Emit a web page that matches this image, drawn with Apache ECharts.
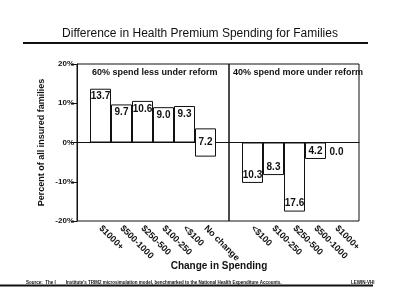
<!DOCTYPE html>
<html>
<head>
<meta charset="utf-8">
<script src="https://cdn.jsdelivr.net/npm/echarts@6/dist/echarts.min.js"></script>
<style>
  html, body { margin: 0; padding: 0; background: #fff; }
  #chart { width: 400px; height: 305px; }
</style>
</head>
<body>
<div id="chart"></div>
<script>
// categories and values (percent of all insured families)
const lessCategories = ["$1000+", "$500-1000", "$250-500", "$100-250", "<$100", "No change"];
const lessValues = [13.7, 9.7, 10.6, 9.0, 9.3, 7.2];
const moreCategories = ["<$100", "$100-250", "$250-500", "$500-1000", "$1000+"];
const moreValues = [-10.3, -8.3, -17.6, -4.2, 0.0];
const yTicks = [-20, -10, 0, 10, 20];

const narrow = "'Liberation Sans', Arial, sans-serif";
const ink = "#111";

const chart = echarts.init(document.getElementById("chart"));

// the "No change" box sits across the zero line, so it is lifted by half its value
const noChangeIdx = lessCategories.indexOf("No change");
const lessBase = lessValues.map((v, i) => (i === noChangeIdx ? -v / 2 : 0));

const txt = size => ({ color: ink, fontFamily: narrow, fontWeight: "bold", fontSize: size });

const barLabel = {
  show: true,
  ...txt(10),
  formatter: p => Math.abs(p.value).toFixed(1)
};

const yBase = {
  type: "value",
  min: yTicks[0],
  max: yTicks[yTicks.length - 1],
  interval: 10,
  splitLine: { show: false }
};

const frame = { top: 64, height: 157, show: true, borderColor: ink, borderWidth: 1, backgroundColor: "transparent" };

const option = {
  backgroundColor: "#fff",
  animation: false,
  title: [
    {
      text: "Difference in Health Premium Spending for Families",
      left: "center", top: 23,
      textStyle: { fontFamily: narrow, fontWeight: "normal", fontSize: 12, color: ink }
    },
    { text: "60% spend less under reform", left: 87, top: 63, textStyle: txt(9) },
    { text: "40% spend more under reform", left: 228, top: 63, textStyle: txt(9) },
    {
      text: "Source:  The I        Institute's TRIM2 microsimulation model, benchmarked to the National Health Expenditure Accounts.",
      left: 21, top: 275, textStyle: txt(4.5)
    },
    { text: "LEWIN-VHI", left: 346, top: 275, textStyle: txt(4.5) }
  ],
  graphic: [
    { type: "line", shape: { x1: 23, y1: 43, x2: 368, y2: 43 }, style: { stroke: ink, lineWidth: 2 } },
    { type: "line", shape: { x1: 0, y1: 285.5, x2: 373, y2: 285.5 }, style: { stroke: ink, lineWidth: 2 } },
    { type: "text", x: 219, y: 266, style: { text: "Change in Spending", align: "center", verticalAlign: "middle",
      fill: ink, font: "bold 10px 'Liberation Sans', Arial, sans-serif" } }
  ],
  grid: [
    { left: 77, width: 152, ...frame },   // left frame
    { left: 229, width: 130, ...frame },  // right frame
    { left: 90, width: 126, top: 64, height: 157 },  // left bars
    { left: 242, width: 105, top: 64, height: 157 }  // right bars
  ],
  xAxis: [
    { gridIndex: 0, type: "value", min: 0, max: 1, axisLabel: { show: false }, axisTick: { show: false }, splitLine: { show: false },
      axisLine: { onZero: true, lineStyle: { color: ink, width: 1 } } },
    { gridIndex: 1, type: "value", min: 0, max: 1, axisLabel: { show: false }, axisTick: { show: false }, splitLine: { show: false },
      axisLine: { onZero: true, lineStyle: { color: ink, width: 1 } } },
    { gridIndex: 2, type: "category", data: lessCategories, position: "bottom",
      axisLine: { show: false, onZero: false }, axisTick: { show: false },
      axisLabel: { rotate: -45, margin: 6, interval: 0, ...txt(9) } },
    { gridIndex: 3, type: "category", data: moreCategories, position: "bottom",
      axisLine: { show: false, onZero: false }, axisTick: { show: false },
      axisLabel: { rotate: -45, margin: 6, interval: 0, ...txt(9) } }
  ],
  yAxis: [
    { ...yBase, gridIndex: 0,
      axisLine: { show: true, lineStyle: { color: ink } },
      axisTick: { show: true, length: 6, lineStyle: { color: ink } },
      axisLabel: { margin: 3, ...txt(8), formatter: v => v + "%" },
      name: "Percent of all insured families", nameLocation: "middle", nameGap: 31,
      nameTextStyle: txt(9) },
    { ...yBase, gridIndex: 1, show: false },
    { ...yBase, gridIndex: 2, show: false },
    { ...yBase, gridIndex: 3, show: false }
  ],
  series: [
    {
      type: "bar", xAxisIndex: 2, yAxisIndex: 2, stack: "less", stackStrategy: "all",
      data: lessBase, barCategoryGap: "0%", silent: true,
      itemStyle: { color: "transparent", borderWidth: 0 }
    },
    {
      type: "bar", xAxisIndex: 2, yAxisIndex: 2, stack: "less", stackStrategy: "all",
      barCategoryGap: "0%",
      data: lessValues.map((v, i) => (i === noChangeIdx ? { value: v, label: { position: "inside" } } : v)),
      itemStyle: { color: "#fff", borderColor: ink, borderWidth: 1 },
      label: { ...barLabel, position: "insideTop", distance: 3 }
    },
    {
      type: "bar", xAxisIndex: 3, yAxisIndex: 3, barCategoryGap: "0%",
      data: moreValues.map(v => (v === 0 ? { value: v, label: { position: "bottom", distance: 4 } } : v)),
      itemStyle: { color: "#fff", borderColor: ink, borderWidth: 1 },
      label: { ...barLabel, position: "insideBottom", distance: 3 }
    }
  ]
};

chart.setOption(option);
</script>
</body>
</html>
